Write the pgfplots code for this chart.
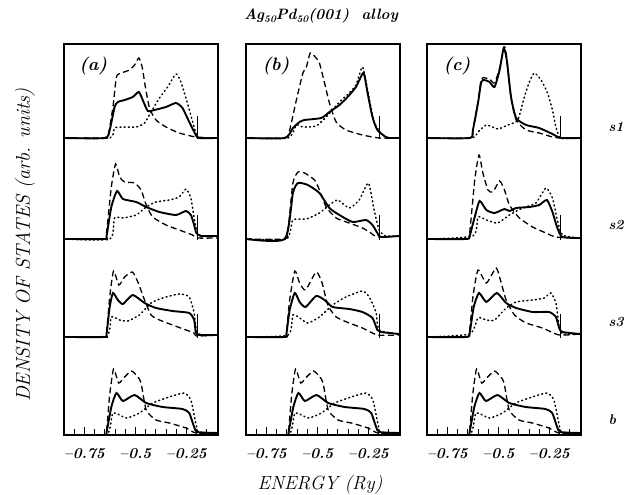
\documentclass[border=0pt]{standalone}
\usepackage{pgfplots}
\pgfplotsset{compat=1.18}

\newcommand{\sub}[1]{\raisebox{-0.45ex}{\fontsize{10}{10}\selectfont #1}}

\pgfplotsset{
  col/.style={
    scale only axis, width=154pt, height=391pt,
    xmin=-0.85, xmax=-0.095, ymin=0, ymax=391,
    ytick=\empty,
    xtick={-0.75,-0.5,-0.25},
    xticklabels={--0.75,--0.5,--0.25},
    minor xtick={-0.8,-0.7,-0.65,-0.6,-0.55,-0.45,-0.4,-0.35,-0.3,-0.2,-0.15},
    xtick pos=bottom, tick align=inside,
    major tick length=8pt, minor tick length=6pt,
    tick style={black, line width=0.9pt},
    axis line style={line width=1.1pt},
    xticklabel style={font=\fontsize{15}{15}\selectfont\bfseries\itshape, yshift=-10pt},
    anchor=south west,
  },
  r1/.style={y filter/.expression={y+297}},
  r2/.style={y filter/.expression={y+196}},
  r3/.style={y filter/.expression={y+98}},
  sol/.style={black, line width=1.9pt, smooth, tension=0.35},
  das/.style={black, line width=1.3pt, dash pattern=on 6pt off 3.5pt, smooth, tension=0.35},
  dot/.style={black, line width=1.5pt, dash pattern=on 1pt off 3.2pt, line cap=round, smooth, tension=0.35},
  ef/.style={black, line width=1pt},
}

\begin{document}
\begin{tikzpicture}
\useasboundingbox (0,0) rectangle (624pt,495pt);

% ---- column (a)
\begin{axis}[col, at={(64pt,60pt)}]
\node at (rel axis cs:0.19,0.944) {\fontsize{18}{18}\selectfont\bfseries\itshape (a)};
% s1
\addplot[das,r1] coordinates {(-0.85,0) (-0.650,0) (-0.634,2) (-0.610,31) (-0.593,61) (-0.569,65) (-0.529,68) (-0.504,73) (-0.483,80) (-0.467,71) (-0.451,51) (-0.431,30) (-0.399,18) (-0.350,11) (-0.285,5) (-0.204,1) (-0.10,0)};
\addplot[sol,r1] coordinates {(-0.85,0) (-0.650,0) (-0.626,8) (-0.602,31) (-0.586,36) (-0.553,38) (-0.513,41) (-0.483,46) (-0.460,36) (-0.439,27) (-0.407,28) (-0.350,31) (-0.301,35) (-0.269,30) (-0.236,16) (-0.204,3) (-0.188,0) (-0.10,0)};
\addplot[dot,r1] coordinates {(-0.85,0) (-0.626,0) (-0.602,10) (-0.561,11) (-0.496,11) (-0.455,15) (-0.423,26) (-0.382,40) (-0.342,51) (-0.301,64) (-0.277,56) (-0.245,35) (-0.212,11) (-0.191,0) (-0.10,0)};
\addplot[ef,r1] coordinates {(-0.195,-1) (-0.195,22)};
% s2
\addplot[das,r2] coordinates {(-0.85,0) (-0.650,0) (-0.642,5) (-0.618,52) (-0.597,75) (-0.577,62) (-0.553,57) (-0.504,56) (-0.472,49) (-0.447,34) (-0.415,22) (-0.350,14) (-0.285,9) (-0.220,4) (-0.196,1) (-0.10,1)};
\addplot[sol,r2] coordinates {(-0.85,0) (-0.650,0) (-0.642,2) (-0.618,32) (-0.590,48) (-0.561,40) (-0.496,37) (-0.447,32) (-0.382,27) (-0.301,24) (-0.252,28) (-0.228,24) (-0.212,14) (-0.201,6) (-0.179,3) (-0.10,3)};
\addplot[dot,r2] coordinates {(-0.85,0) (-0.626,0) (-0.602,21) (-0.561,21) (-0.496,24) (-0.447,32) (-0.399,37) (-0.334,39) (-0.285,42) (-0.252,50) (-0.228,41) (-0.212,21) (-0.196,6) (-0.172,3) (-0.10,3)};
\addplot[ef,r2] coordinates {(-0.195,-1) (-0.195,24)};
% s3
\addplot[das,r3] coordinates {(-0.85,0) (-0.650,0) (-0.642,2) (-0.626,40) (-0.607,66) (-0.581,52) (-0.553,60) (-0.515,65) (-0.488,55) (-0.455,37) (-0.423,22) (-0.382,17) (-0.318,12) (-0.252,7) (-0.212,4) (-0.201,1) (-0.10,2)};
\addplot[sol,r3] coordinates {(-0.85,0) (-0.650,0) (-0.642,2) (-0.626,30) (-0.610,44) (-0.586,37) (-0.561,33) (-0.513,42) (-0.455,34) (-0.399,29) (-0.318,26) (-0.236,24) (-0.212,17) (-0.204,5) (-0.188,2) (-0.10,2)};
\addplot[dot,r3] coordinates {(-0.85,0) (-0.642,1) (-0.618,20) (-0.577,17) (-0.537,16) (-0.480,22) (-0.423,34) (-0.366,39) (-0.285,43) (-0.236,40) (-0.212,24) (-0.201,7) (-0.179,2) (-0.10,2)};
\addplot[ef,r3] coordinates {(-0.195,-1) (-0.195,23)};
% bulk
\addplot[das] coordinates {(-0.85,0) (-0.650,0) (-0.642,2) (-0.626,40) (-0.607,66) (-0.582,52) (-0.553,58) (-0.519,64) (-0.488,58) (-0.472,52) (-0.447,25) (-0.399,15) (-0.334,12) (-0.252,7) (-0.204,2) (-0.10,2)};
\addplot[sol] coordinates {(-0.85,0) (-0.650,0) (-0.642,2) (-0.618,28) (-0.593,42) (-0.561,34) (-0.504,40) (-0.447,32) (-0.366,28) (-0.269,26) (-0.236,22) (-0.212,8) (-0.196,3) (-0.10,2)};
\addplot[dot] coordinates {(-0.85,0) (-0.642,0) (-0.610,22) (-0.545,17) (-0.480,22) (-0.415,32) (-0.334,38) (-0.261,42) (-0.228,35) (-0.204,12) (-0.188,2) (-0.10,2)};
\end{axis}

% ---- column (b)
\begin{axis}[col, at={(246pt,60pt)}]
\node at (rel axis cs:0.195,0.944) {\fontsize{18}{18}\selectfont\bfseries\itshape (b)};
% s1
\addplot[das,r1] coordinates {(-0.85,0) (-0.660,0) (-0.636,8) (-0.603,38) (-0.571,65) (-0.554,71) (-0.535,85) (-0.506,80) (-0.490,75) (-0.465,55) (-0.441,35) (-0.408,16) (-0.360,8) (-0.279,3) (-0.197,0) (-0.10,0)};
\addplot[sol,r1] coordinates {(-0.85,0) (-0.660,0) (-0.620,10) (-0.587,16) (-0.563,18) (-0.481,20) (-0.441,26) (-0.392,33) (-0.352,41) (-0.311,51) (-0.274,65) (-0.254,45) (-0.230,21) (-0.206,8) (-0.165,1) (-0.149,0) (-0.10,0)};
\addplot[dot,r1] coordinates {(-0.85,0) (-0.644,0) (-0.603,13) (-0.571,11) (-0.506,12) (-0.457,21) (-0.392,36) (-0.344,45) (-0.311,53) (-0.279,71) (-0.254,48) (-0.222,16) (-0.181,3) (-0.149,0) (-0.10,0)};
\addplot[ef,r1] coordinates {(-0.195,-1) (-0.195,22)};
% s2
\addplot[das,r2] coordinates {(-0.85,0) (-0.660,0) (-0.644,9) (-0.620,56) (-0.595,67) (-0.563,66) (-0.514,59) (-0.490,49) (-0.457,32) (-0.408,21) (-0.344,16) (-0.279,11) (-0.238,6) (-0.206,2) (-0.10,3)};
\addplot[sol,r2] coordinates {(-0.85,0) (-0.660,0) (-0.620,46) (-0.595,56) (-0.547,54) (-0.490,46) (-0.441,31) (-0.392,24) (-0.327,17) (-0.262,19) (-0.230,14) (-0.206,6) (-0.189,2) (-0.10,3)};
\addplot[dot,r2] coordinates {(-0.85,0) (-0.652,0) (-0.620,19) (-0.554,20) (-0.490,26) (-0.441,34) (-0.400,39) (-0.344,31) (-0.295,39) (-0.250,56) (-0.222,29) (-0.197,9) (-0.165,3) (-0.10,3)};
\addplot[ef,r2] coordinates {(-0.195,-1) (-0.195,24)};
% s3
\addplot[das,r3] coordinates {(-0.85,0) (-0.660,0) (-0.652,4) (-0.636,37) (-0.611,66) (-0.587,54) (-0.558,47) (-0.506,65) (-0.477,54) (-0.449,32) (-0.408,20) (-0.344,14) (-0.279,9) (-0.206,2) (-0.10,2)};
\addplot[sol,r3] coordinates {(-0.85,0) (-0.660,0) (-0.652,3) (-0.636,27) (-0.611,44) (-0.587,35) (-0.558,30) (-0.506,41) (-0.465,37) (-0.425,30) (-0.344,28) (-0.279,25) (-0.230,19) (-0.206,7) (-0.189,5) (-0.10,3)};
\addplot[dot,r3] coordinates {(-0.85,0) (-0.644,2) (-0.620,22) (-0.587,19) (-0.547,14) (-0.490,20) (-0.425,32) (-0.360,40) (-0.279,46) (-0.246,40) (-0.213,25) (-0.197,7) (-0.10,3)};
\addplot[ef,r3] coordinates {(-0.195,-1) (-0.195,23)};
% bulk
\addplot[das] coordinates {(-0.85,0) (-0.650,0) (-0.642,2) (-0.626,40) (-0.607,66) (-0.582,52) (-0.553,58) (-0.519,64) (-0.488,58) (-0.472,52) (-0.447,25) (-0.399,15) (-0.334,12) (-0.252,7) (-0.204,2) (-0.10,2)};
\addplot[sol] coordinates {(-0.85,0) (-0.650,0) (-0.642,2) (-0.618,28) (-0.593,42) (-0.561,34) (-0.504,40) (-0.447,32) (-0.366,28) (-0.269,26) (-0.236,22) (-0.212,8) (-0.196,3) (-0.10,2)};
\addplot[dot] coordinates {(-0.85,0) (-0.642,0) (-0.610,22) (-0.545,17) (-0.480,22) (-0.415,32) (-0.334,38) (-0.261,42) (-0.228,35) (-0.204,12) (-0.188,2) (-0.10,2)};
\end{axis}

% ---- column (c)
\begin{axis}[col, at={(427pt,60pt)}]
\node at (rel axis cs:0.195,0.944) {\fontsize{18}{18}\selectfont\bfseries\itshape (c)};
% s1
\addplot[das,r1] coordinates {(-0.85,0) (-0.641,0) (-0.625,8) (-0.600,36) (-0.584,59) (-0.563,60) (-0.543,59) (-0.519,55) (-0.494,70) (-0.470,91) (-0.459,80) (-0.438,40) (-0.413,18) (-0.364,8) (-0.300,5) (-0.235,1) (-0.194,0) (-0.10,0)};
\addplot[sol,r1] coordinates {(-0.85,0) (-0.641,0) (-0.625,8) (-0.600,35) (-0.584,56) (-0.568,58) (-0.543,56) (-0.519,51) (-0.494,68) (-0.474,90) (-0.459,78) (-0.438,41) (-0.413,20) (-0.364,13) (-0.300,10) (-0.235,4) (-0.194,0) (-0.10,0)};
\addplot[dot,r1] coordinates {(-0.85,0) (-0.632,0) (-0.600,6) (-0.559,13) (-0.503,9) (-0.454,13) (-0.405,18) (-0.373,41) (-0.348,56) (-0.324,65) (-0.291,58) (-0.259,45) (-0.235,28) (-0.218,11) (-0.194,0) (-0.10,0)};
\addplot[ef,r1] coordinates {(-0.195,-1) (-0.195,22)};
% s2
\addplot[das,r2] coordinates {(-0.85,0) (-0.657,0) (-0.641,6) (-0.616,59) (-0.595,84) (-0.576,66) (-0.551,49) (-0.527,47) (-0.494,58) (-0.470,49) (-0.446,34) (-0.397,21) (-0.332,12) (-0.267,6) (-0.218,2) (-0.10,1)};
\addplot[sol,r2] coordinates {(-0.85,0) (-0.657,0) (-0.641,3) (-0.616,22) (-0.592,38) (-0.559,29) (-0.519,26) (-0.470,30) (-0.446,28) (-0.413,31) (-0.348,32) (-0.300,34) (-0.262,39) (-0.235,27) (-0.211,11) (-0.186,2) (-0.10,1)};
\addplot[dot,r2] coordinates {(-0.85,0) (-0.625,3) (-0.600,22) (-0.559,19) (-0.503,16) (-0.446,24) (-0.381,31) (-0.316,36) (-0.267,51) (-0.235,41) (-0.211,19) (-0.186,4) (-0.10,1)};
\addplot[ef,r2] coordinates {(-0.195,-1) (-0.195,24)};
% s3
\addplot[das,r3] coordinates {(-0.85,0) (-0.657,0) (-0.641,7) (-0.625,40) (-0.600,67) (-0.559,54) (-0.511,69) (-0.486,54) (-0.462,37) (-0.421,22) (-0.364,14) (-0.284,9) (-0.202,2) (-0.10,3)};
\addplot[sol,r3] coordinates {(-0.85,0) (-0.657,0) (-0.641,4) (-0.621,30) (-0.595,44) (-0.559,35) (-0.508,44) (-0.462,34) (-0.413,29) (-0.332,25) (-0.251,25) (-0.218,20) (-0.202,9) (-0.186,5) (-0.10,3)};
\addplot[dot,r3] coordinates {(-0.85,0) (-0.641,3) (-0.600,19) (-0.559,17) (-0.519,17) (-0.462,29) (-0.413,35) (-0.332,37) (-0.275,39) (-0.243,44) (-0.218,34) (-0.202,10) (-0.186,3) (-0.10,3)};
\addplot[ef,r3] coordinates {(-0.195,-1) (-0.195,23)};
% bulk
\addplot[das] coordinates {(-0.85,0) (-0.650,0) (-0.642,2) (-0.626,40) (-0.607,66) (-0.582,52) (-0.553,58) (-0.519,64) (-0.488,58) (-0.472,52) (-0.447,25) (-0.399,15) (-0.334,12) (-0.252,7) (-0.204,2) (-0.10,2)};
\addplot[sol] coordinates {(-0.85,0) (-0.650,0) (-0.642,2) (-0.618,28) (-0.593,42) (-0.561,34) (-0.504,40) (-0.447,32) (-0.366,28) (-0.269,26) (-0.236,22) (-0.212,8) (-0.196,3) (-0.10,2)};
\addplot[dot] coordinates {(-0.85,0) (-0.642,0) (-0.610,22) (-0.545,17) (-0.480,22) (-0.415,32) (-0.334,38) (-0.261,42) (-0.228,35) (-0.204,12) (-0.188,2) (-0.10,2)};
\end{axis}

% titles and labels
\node at (321pt,479pt) {\fontsize{15}{15}\selectfont\bfseries\itshape Ag\sub{50}Pd\sub{50}(001)\ \ alloy};
\node[rotate=90] at (25pt,250pt) {\fontsize{20}{20}\selectfont\itshape DENSITY OF STATES (arb. units)};
\node at (320pt,10pt) {\fontsize{19}{19}\selectfont\itshape ENERGY (Ry)};
\node[anchor=west] at (605pt,368pt) {\fontsize{14}{14}\selectfont\bfseries\itshape s1};
\node[anchor=west] at (605pt,270pt) {\fontsize{14}{14}\selectfont\bfseries\itshape s2};
\node[anchor=west] at (605pt,173pt) {\fontsize{14}{14}\selectfont\bfseries\itshape s3};
\node[anchor=west] at (605pt,75pt) {\fontsize{14}{14}\selectfont\bfseries\itshape b};
\end{tikzpicture}
\end{document}
